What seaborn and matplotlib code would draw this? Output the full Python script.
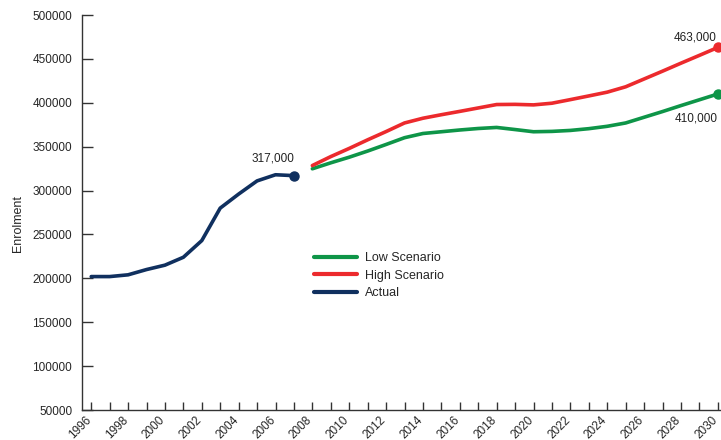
import pandas as pd
import numpy as np
import seaborn as sns
import matplotlib.pyplot as plt
import matplotlib.transforms as mtransforms
from matplotlib.ticker import MultipleLocator

# values
years_actual = [1996, 1997, 1998, 1999, 2000, 2001, 2002, 2003, 2004, 2005, 2006, 2007]
actual = [202000, 202000, 204000, 210000, 215000, 224000, 243000, 280000, 296000, 311000, 318000, 317000]

years_proj = list(range(2008, 2031))
high = [328500, 338700, 348000, 357800, 367200, 377000, 382400, 386400, 390200, 394100, 398000, 398200,
        397600, 399500, 403600, 407800, 412100, 418200, 427100, 436000, 445100, 454000, 463000]
low = [324800, 331600, 338000, 345000, 352500, 360200, 365000, 367000, 369000, 370700, 371900, 369500,
       367000, 367400, 368500, 370500, 373200, 377000, 383500, 390000, 396800, 403400, 410000]

series_order = ['Low Scenario', 'High Scenario', 'Actual']
colours = {'Low Scenario': '#0e9548', 'High Scenario': '#ec2a2d', 'Actual': '#10305f'}

df = pd.concat([
    pd.DataFrame({'Year': years_proj, 'Enrolment': low, 'Series': 'Low Scenario'}),
    pd.DataFrame({'Year': years_proj, 'Enrolment': high, 'Series': 'High Scenario'}),
    pd.DataFrame({'Year': years_actual, 'Enrolment': actual, 'Series': 'Actual'}),
], ignore_index=True)

sns.set_style('ticks')
plt.rcParams['font.family'] = ['Liberation Sans', 'DejaVu Sans']

fig = plt.figure(figsize=(7.21, 4.40), dpi=100)
ax = fig.add_axes([82 / 721, 30 / 440, 645 / 721, 395 / 440])

sns.lineplot(data=df, x='Year', y='Enrolment', hue='Series', hue_order=series_order,
             palette=colours, linewidth=2.6, ax=ax, legend=False)

# end points
ends = df.groupby('Series').tail(1)
for _, r in ends.iterrows():
    ax.plot(r['Year'], r['Enrolment'], 'o', color=colours[r['Series']], markersize=6.5, clip_on=False)

txt = dict(textcoords='offset pixels', ha='center', va='center', fontsize=8.5, color='#222222')
ax.annotate('317,000', (years_actual[-1], actual[-1]), xytext=(-21, 17), **txt)
ax.annotate('463,000', (years_proj[-1], high[-1]), xytext=(-23, 10), **txt)
ax.annotate('410,000', (years_proj[-1], low[-1]), xytext=(-22, -24), **txt)

ax.set_xlim(1995.5, 2030.5)
ax.set_ylim(50000, 500000)
ax.yaxis.set_major_locator(MultipleLocator(50000))
ax.xaxis.set_major_locator(MultipleLocator(2))
ax.xaxis.set_minor_locator(MultipleLocator(1))

for s in ['top', 'right']:
    ax.spines[s].set_visible(False)
for s in ['left', 'bottom']:
    ax.spines[s].set_color('#333333')
    ax.spines[s].set_linewidth(1.0)

ax.tick_params(axis='y', direction='in', length=8, width=1, color='#333333', pad=7, labelsize=8.5)
ax.tick_params(axis='x', which='both', direction='in', length=6, width=1, color='#333333', pad=6, labelsize=8.5)
ax.set_xlabel('')
ax.set_ylabel('Enrolment', fontsize=9)
ax.yaxis.set_label_coords(-58 / 645, 0.473)

offset = mtransforms.ScaledTranslation(-2 / 100, 0, fig.dpi_scale_trans)
for lbl in ax.get_xticklabels():
    lbl.set_rotation(45)
    lbl.set_ha('right')
    lbl.set_va('center')
    lbl.set_rotation_mode('anchor')
    lbl.set_transform(lbl.get_transform() + offset)

handles = [plt.Line2D([], [], color=colours[s], linewidth=3) for s in series_order]
ax.legend(handles, series_order, loc='upper left', bbox_to_anchor=(314 / 721, 1 - 252 / 440),
          bbox_transform=fig.transFigure, frameon=False, fontsize=9, handlelength=3.4,
          handletextpad=0.7, labelspacing=0.45, borderpad=0, borderaxespad=0)

fig.savefig('out.png', dpi=100)
